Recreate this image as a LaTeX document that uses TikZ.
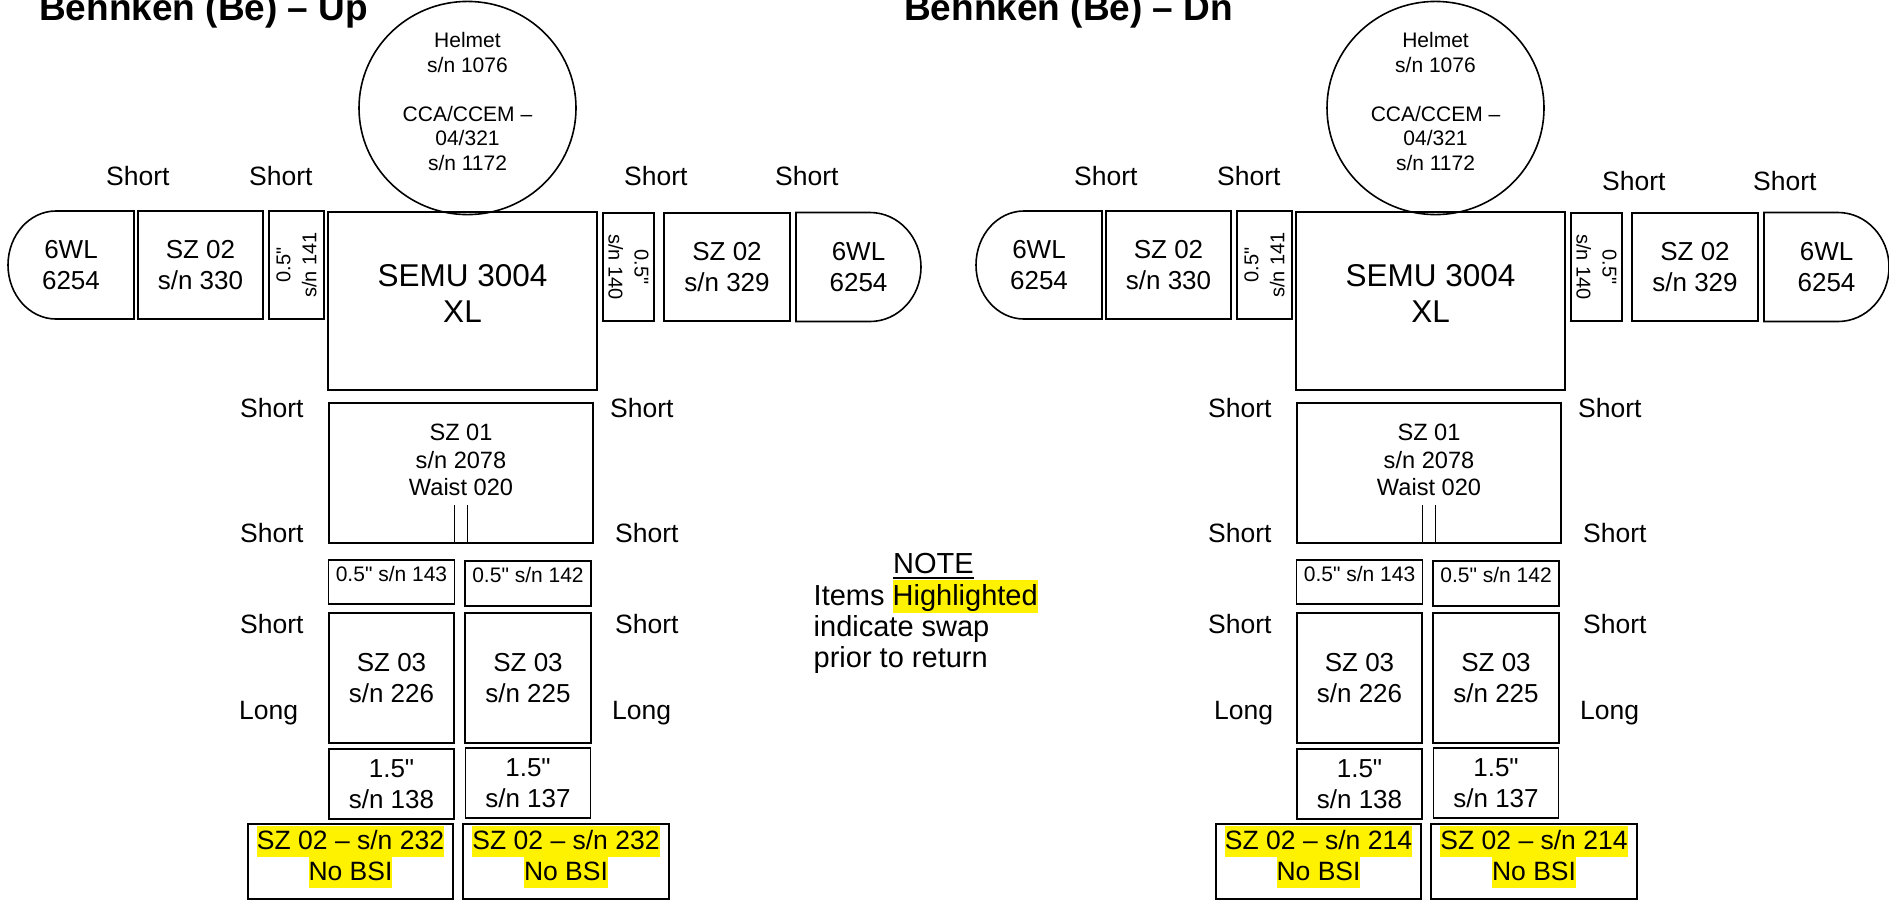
\documentclass[tikz,border=0pt]{standalone}
\usepackage{fontspec}
\setmainfont{Liberation Sans}[Ligatures=TeXOff]
\usepackage{xcolor}
\usepackage{tikz}
\usetikzlibrary{positioning,shapes.geometric}
\newcommand{\hlt}[1]{{\setlength{\fboxsep}{0pt}\colorbox{yellow}{\rule[-0.25em]{0pt}{1.15em}#1}}}
\tikzset{
partbox/.style={
draw,
line width=1.6pt,
inner sep=0pt,
outer sep=0pt,
align=center,
font=\fontsize{26}{30.5}\selectfont
},
thinpart/.style={
partbox,
font=\fontsize{21}{24}\selectfont
},
sidepad/.style={
partbox,
font=\fontsize{20}{26}\selectfont
},
helmet/.style={
partbox,
ellipse,
minimum width=217pt,
minimum height=206pt,
font=\fontsize{21}{24.5}\selectfont
},
bootbox/.style={
partbox,
minimum width=205pt,
minimum height=75pt,
font=\fontsize{26.5}{31}\selectfont
},
partline/.style={
line width=1.6pt
},
fitlabel/.style={
inner sep=0pt,
anchor=base west,
font=\fontsize{26.5}{30}\selectfont
},
heading/.style={
inner sep=0pt,
anchor=base west,
font=\fontsize{37}{42}\selectfont\bfseries
}
}

\begin{document}
\begin{tikzpicture}[x=1pt,y=-1pt]
\useasboundingbox (0,0) rectangle (1889,900);
\clip (0,0) rectangle (1889,900);

\node[heading](ttlu) at (39,20.5){Behnken (Be) – Up};
\node[heading](ttld) at (904,20.5){Behnken (Be) – Dn};

\foreach \fig/\dx/\sn/\ax/\ay/\lx in {u/0/232/0/0/0,d/968/214/10/5/7}{
\begin{scope}[xshift=\dx pt]
% torso and helmet
\node[partbox,minimum width=269pt,minimum height=178pt,font=\fontsize{31.5}{36}\selectfont](\fig-semu) at (462.5,301){SEMU 3004\\XL\rule[-15pt]{0pt}{15pt}};
\node[helmet](\fig-helm) at (467.5,108){Helmet\\s/n 1076\\[24.5pt]CCA/CCEM –\\04/321\\s/n 1172\rule[-13pt]{0pt}{13pt}};

% arms
\node[partbox,minimum width=125pt,minimum height=108pt](\fig-szL) at (200.5,265){SZ 02\\s/n 330};
\node[partbox,draw=none,minimum width=126pt,minimum height=108pt,left=4pt of \fig-szL](\fig-glL){6WL\\6254};
\draw[partline](\fig-glL.north east)--([xshift=48pt]\fig-glL.north west) arc[start angle=90,end angle=270,x radius=48pt,y radius=54pt]--(\fig-glL.south east)--cycle;
\node[sidepad,rotate=90,minimum width=108pt,minimum height=55pt](\fig-hfL) at (296.5,265){0.5"\\s/n 141};
\node[sidepad,rotate=-90,minimum width=108pt,minimum height=51pt](\fig-hfR) at (628.5,267){0.5"\\s/n 140};
\node[partbox,minimum width=126pt,minimum height=108pt](\fig-szR) at (727,267){SZ 02\\s/n 329};
\node[partbox,draw=none,minimum width=125pt,minimum height=109pt,right=6pt of \fig-szR](\fig-glR){6WL\\6254};
\draw[partline](\fig-glR.north west)--([xshift=-51pt]\fig-glR.north east) arc[start angle=90,end angle=-90,x radius=51pt,y radius=54.5pt]--(\fig-glR.south west)--cycle;

% waist
\node[partbox,minimum width=264pt,minimum height=140pt,font=\fontsize{23.6}{27.5}\selectfont](\fig-sz1) at (461,473){SZ 01\\s/n 2078\\Waist 020\rule[-26pt]{0pt}{26pt}};
\draw[partline]([xshift=-6.5pt]\fig-sz1.south)--++(0,-38);
\draw[partline]([xshift=6.5pt]\fig-sz1.south)--++(0,-38);

% legs
\node[partbox,minimum width=125pt,minimum height=130pt](\fig-sz3a) at (391.5,678){SZ 03\\s/n 226};
\node[partbox,minimum width=126pt,minimum height=130pt,right=11pt of \fig-sz3a](\fig-sz3b){SZ 03\\s/n 225};
\node[thinpart,minimum width=126pt,minimum height=44pt,above=9pt of \fig-sz3a](\fig-hp43){0.5" s/n 143\rule[-17pt]{0pt}{17pt}};
\node[thinpart,minimum width=126pt,minimum height=45pt,above=7pt of \fig-sz3b](\fig-hp42){0.5" s/n 142\rule[-17pt]{0pt}{17pt}};
\node[partbox,minimum width=125pt,minimum height=70pt,below=6pt of \fig-sz3a](\fig-bp38){1.5"\\s/n 138};
\node[partbox,minimum width=125pt,minimum height=70pt,below=5pt of \fig-sz3b](\fig-bp37){1.5"\\s/n 137};
\node[bootbox](\fig-sw1) at (350.5,861.5){\hlt{SZ 02 – s/n \sn}\\\hlt{No BSI}\rule[-16pt]{0pt}{16pt}};
\node[bootbox,minimum width=206pt,right=10pt of \fig-sw1](\fig-sw2){\hlt{SZ 02 – s/n \sn}\\\hlt{No BSI}\rule[-16pt]{0pt}{16pt}};

% fit labels
\foreach \n/\x/\y in {1/106/185,2/249/185,3/624+\ax/185+\ay,4/775+\ax/185+\ay,5/240/417,6/610/417,7/240/542,8/615/542,9/240/633,10/615/633}
\node[fitlabel](\fig-s\n) at (\x,\y){Short};
\node[fitlabel](\fig-l1) at (239+\lx,719){Long};
\node[fitlabel](\fig-l2) at (612,719){Long};
\end{scope}
}

\node[fitlabel,font=\fontsize{29}{31}\selectfont](note) at (893,573){NOTE};
\draw[line width=2.4pt]([yshift=-5pt]note.base west)--([yshift=-5pt]note.base east);
\node[inner sep=0pt,anchor=north west,align=left,font=\fontsize{29}{31}\selectfont](notetxt) at (813.5,579.5){Items \hlt{Highlighted}\\indicate swap\\prior to return};
\end{tikzpicture}
\end{document}
